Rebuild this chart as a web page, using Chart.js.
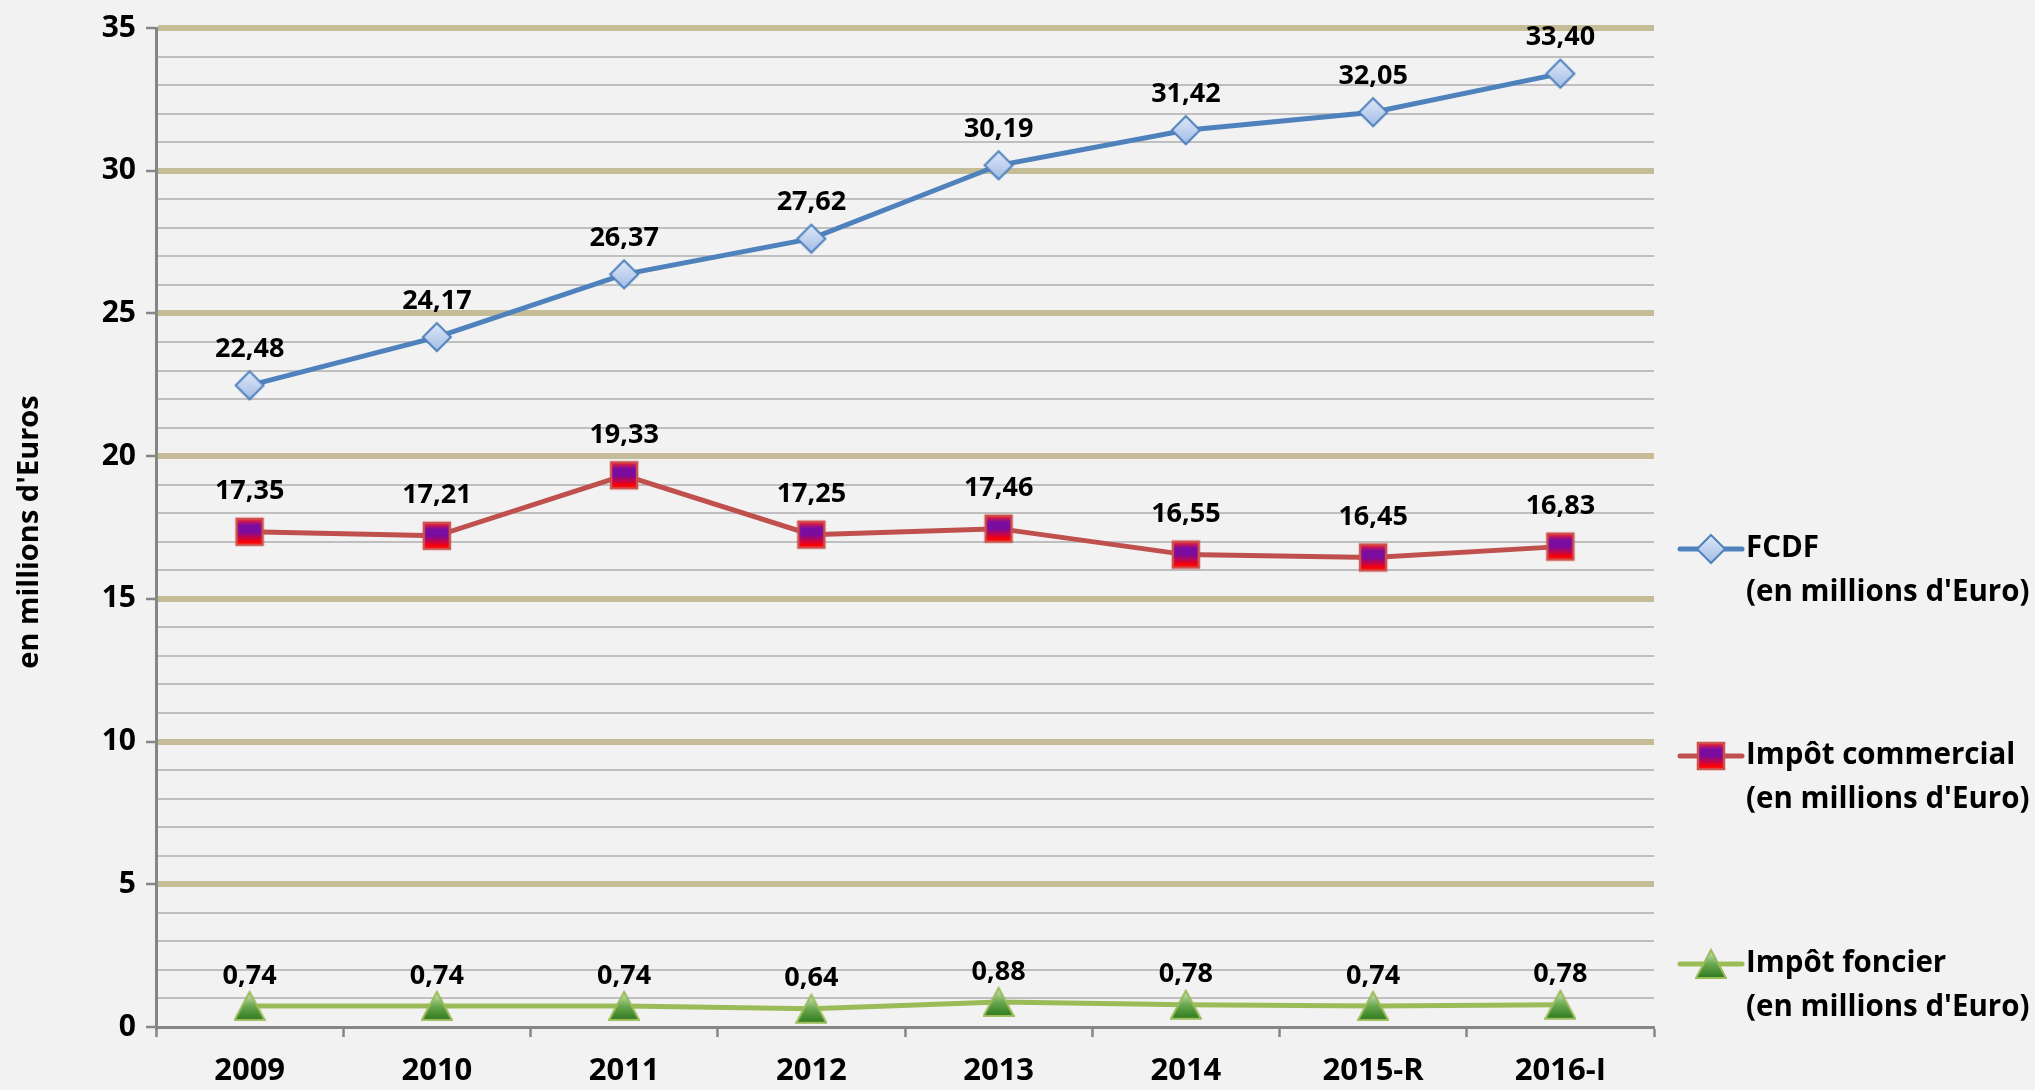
<!DOCTYPE html>
<html><head><meta charset="utf-8">
<script src="https://cdn.jsdelivr.net/npm/chart.js@4"></script>
<style>html,body{margin:0;padding:0;background:#F2F2F2;overflow:hidden}#wrap{width:2035px;height:1090px}</style>
</head><body><div id="wrap"><canvas id="c" width="2035" height="1090"></canvas></div>
<script>
const categories = ['2009','2010','2011','2012','2013','2014','2015-R','2016-I'];
const fcdf = [22.48,24.17,26.37,27.62,30.19,31.42,32.05,33.40];
const commercial = [17.35,17.21,19.33,17.25,17.46,16.55,16.45,16.83];
const foncier = [0.74,0.74,0.74,0.64,0.88,0.78,0.74,0.78];
const seriesNames = [['FCDF',"(en millions d'Euro)"],['Impôt commercial',"(en millions d'Euro)"],['Impôt foncier',"(en millions d'Euro)"]];
const yTitle = "en millions d'Euros";
const yMin = 0, yMax = 35, yMajor = 5;

const FONT = '"Open Sans", Lato, sans-serif';

function makeMarker(kind){
  const c = document.createElement('canvas');
  const s = 32; c.width = s; c.height = s;
  const g = c.getContext('2d');
  g.beginPath();
  let grad;
  if(kind==='diamond'){
    g.moveTo(16,2);g.lineTo(30,16);g.lineTo(16,30);g.lineTo(2,16);g.closePath();
    grad = g.createLinearGradient(0,2,0,30);
    grad.addColorStop(0,'#dfe8f7');grad.addColorStop(1,'#a3bce6');
    g.fillStyle = grad; g.fill();
    g.lineWidth = 2; g.strokeStyle = '#4F81BD'; g.stroke();
  } else if(kind==='square'){
    g.rect(3,3,26,26);
    grad = g.createLinearGradient(0,3,0,29);
    grad.addColorStop(0,'#ff2020');grad.addColorStop(0.25,'#7a0ca0');grad.addColorStop(0.5,'#7a0ca0');grad.addColorStop(0.9,'#ff0000');grad.addColorStop(1,'#ff0000');
    g.fillStyle = grad; g.fill();
    g.lineWidth = 2.5; g.strokeStyle = '#D0504D'; g.stroke();
  } else {
    g.moveTo(16,2);g.lineTo(31,30);g.lineTo(1,30);g.closePath();
    grad = g.createLinearGradient(0,2,0,30);
    grad.addColorStop(0,'#d6eac4');grad.addColorStop(0.5,'#6aa84f');grad.addColorStop(1,'#2e7a1e');
    g.fillStyle = grad; g.fill();
    g.lineWidth = 2; g.strokeStyle = '#9BBB59'; g.stroke();
  }
  return c;
}
const markers = [makeMarker('diamond'), makeMarker('square'), makeMarker('triangle')];
const lineColors = ['#4F81BD','#C0504D','#9BBB59'];
const labelOffsets = [36, 40, 30];

const bgPlugin = {
  id:'bg',
  beforeDraw(chart){
    const ctx = chart.ctx; ctx.save(); ctx.fillStyle = '#F2F2F2'; ctx.fillRect(0,0,chart.width,chart.height); ctx.restore();
  }
};
const labelPlugin = {
  id:'labels',
  afterDatasetsDraw(chart){
    const ctx = chart.ctx; ctx.save();
    ctx.font = 'bold 27px ' + FONT; ctx.fillStyle = '#000'; ctx.textAlign = 'center'; ctx.textBaseline = 'middle';
    chart.data.datasets.forEach((ds,i)=>{
      const meta = chart.getDatasetMeta(i);
      meta.data.forEach((pt,j)=>{
        ctx.fillText(ds.data[j].toFixed(2).replace('.',','), pt.x, pt.y - labelOffsets[i]);
      });
    });
    ctx.restore();
  }
};
const extrasPlugin = {
  id:'extras',
  afterDraw(chart){
    const ctx = chart.ctx; const ca = chart.chartArea;
    ctx.save();
    ctx.translate(30, 532);
    ctx.rotate(-Math.PI/2);
    ctx.font = 'bold 29px ' + FONT; ctx.fillStyle = '#000'; ctx.textAlign='center'; ctx.textBaseline='middle';
    ctx.fillText(yTitle, 0, 0);
    ctx.restore();
    ctx.save();
    const ys = [549, 756, 964];
    const lx0 = ca.right + 26, lx1 = lx0 + 62, tx = lx1 + 4;
    seriesNames.forEach((nm,i)=>{
      const y = ys[i];
      ctx.strokeStyle = lineColors[i]; ctx.lineWidth = 5; ctx.lineCap='round';
      ctx.beginPath(); ctx.moveTo(lx0,y); ctx.lineTo(lx1,y); ctx.stroke();
      const m = markers[i];
      ctx.drawImage(m, (lx0+lx1)/2 - m.width/2, y - m.height/2);
      ctx.font = 'bold 29.5px ' + FONT; ctx.fillStyle='#000'; ctx.textAlign='left'; ctx.textBaseline='middle';
      ctx.fillText(nm[0], tx, y);
      ctx.fillText(nm[1], tx, y+44);
    });
    ctx.restore();
  }
};

function mk(label, data, i){
  return {label, data, borderColor: lineColors[i], borderWidth:5, tension:0,
    pointStyle: markers[i], pointRadius: 14, pointHoverRadius:14, fill:false};
}

const isMajor = v => Math.abs(v % yMajor) < 1e-9;

document.fonts.load('bold 28px "Open Sans"').finally(()=>{
new Chart(document.getElementById('c'), {
  type:'line',
  data:{labels:categories, datasets:[mk(seriesNames[0][0],fcdf,0), mk(seriesNames[1][0],commercial,1), mk(seriesNames[2][0],foncier,2)]},
  options:{
    responsive:false, animation:false, devicePixelRatio:1,
    layout:{padding:{left:0, top:25, right:381, bottom:0}},
    plugins:{legend:{display:false}, tooltip:{enabled:false}},
    scales:{
      x:{offset:true,
        grid:{offset:true, drawOnChartArea:false, drawTicks:true, tickLength:10, tickColor:'#868686', tickWidth:2.5},
        border:{color:'#868686', width:3},
        ticks:{font:{family:FONT, weight:'bold', size:31}, color:'#000', padding:16, maxRotation:0, autoSkip:false},
        afterFit(s){ s.height = 63; }
      },
      y:{min:yMin, max:yMax,
        ticks:{stepSize:1, autoSkip:false, callback:v => isMajor(v) ? String(v) : '', font:{family:FONT, weight:'bold', size:30}, color:'#000', padding:10},
        grid:{
          color: c => c.tick.value===0 ? 'rgba(0,0,0,0)' : (isMajor(c.tick.value) ? '#C4BD97' : '#BFBFBF'),
          lineWidth: c => isMajor(c.tick.value) ? 6 : 2,
          tickColor: c => isMajor(c.tick.value) ? '#868686' : 'rgba(0,0,0,0)',
          tickLength:10, tickWidth:2.5, drawTicks:true
        },
        border:{color:'#868686', width:3},
        afterFit(s){ s.width = 156; }
      }
    }
  },
  plugins:[bgPlugin, labelPlugin, extrasPlugin]
});
});
</script>
</body></html>
